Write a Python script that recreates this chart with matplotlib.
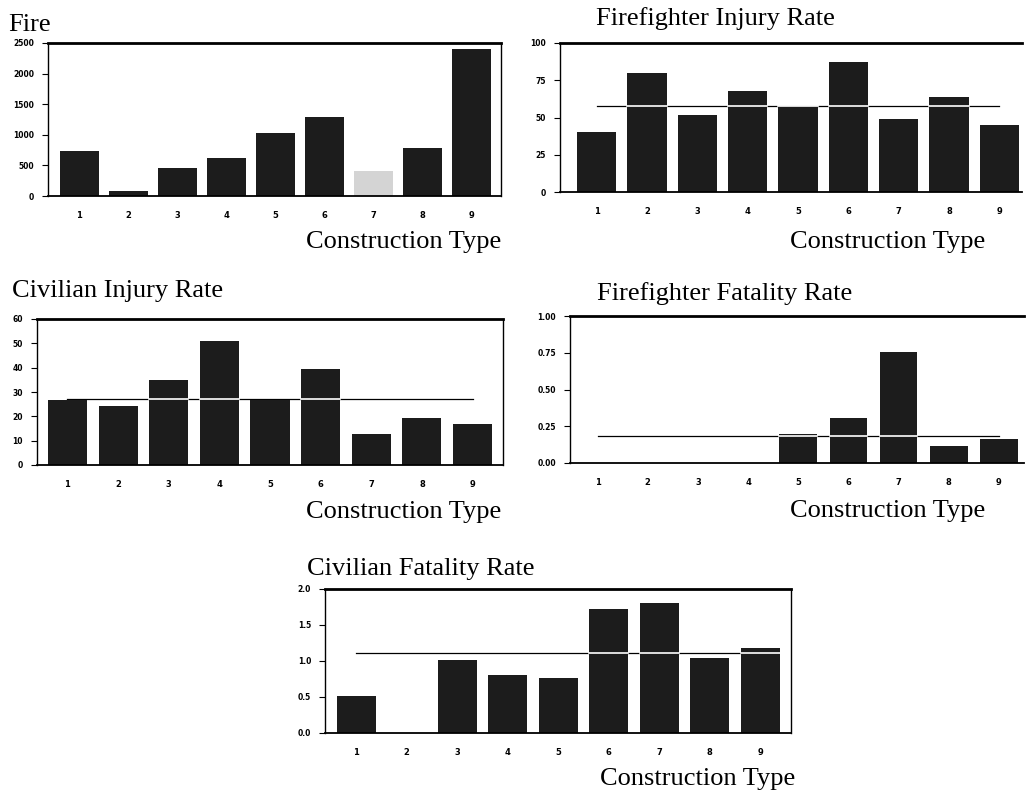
import matplotlib
matplotlib.use("Agg")
import matplotlib.pyplot as plt

W, H = 1026, 797

types = [1, 2, 3, 4, 5, 6, 7, 8, 9]
type_labels = ["1", "2", "3", "4", "5", "6", "7", "8", "9"]

fire = [740, 82, 462, 621, 1029, 1286, 403, 784, 2407]
ff_injury = [40.5, 80, 52, 68, 58, 87, 49, 64, 45]
civ_injury = [26.7, 24.4, 34.9, 51.1, 26.7, 39.3, 12.7, 19.4, 16.8]
ff_fatal = [0, 0, 0, 0, 0.194, 0.309, 0.757, 0.119, 0.164]
civ_fatal = [0.52, 0, 1.01, 0.81, 0.77, 1.72, 1.81, 1.04, 1.18]

ff_injury_avg = 57.7
civ_injury_avg = 27.0
ff_fatal_avg = 0.187
civ_fatal_avg = 1.11

fire_ticks = [0, 500, 1000, 1500, 2000, 2500]
ff_injury_ticks = [0, 25, 50, 75, 100]
civ_injury_ticks = [0, 10, 20, 30, 40, 50, 60]
ff_fatal_ticks = [0.0, 0.25, 0.5, 0.75, 1.0]
civ_fatal_ticks = [0.0, 0.5, 1.0, 1.5, 2.0]

BAR = "#1c1c1c"
SERIF = "Liberation Serif"

fig = plt.figure(figsize=(W / 100, H / 100), dpi=100)
fig.patch.set_facecolor("white")


def box(l, r, t, b):
    return [l / W, 1 - b / H, (r - l) / W, (b - t) / H]


def panel(rect, values, ticks, fmt, xlim, width, avg=None, colors=None,
          right=True):
    ax = fig.add_axes(box(*rect))
    cols = colors if colors else [BAR] * len(values)
    ax.bar(types, values, width=width, color=cols, zorder=2)
    if avg is not None:
        # dark line behind the bars, white where it crosses a taller bar
        ax.plot([types[0], types[-1]], [avg, avg], color="black", lw=0.9,
                zorder=1)
        for x, v in zip(types, values):
            if v > avg:
                ax.plot([x - width / 2, x + width / 2], [avg, avg],
                        color="white", lw=1.2, zorder=3)
    ax.set_xlim(*xlim)
    ax.set_ylim(ticks[0], ticks[-1])
    ax.set_yticks(ticks)
    ax.set_yticklabels([fmt.format(t) for t in ticks], fontsize=5.5,
                       fontweight="bold", family="DejaVu Sans")
    ax.set_xticks(types)
    ax.set_xticklabels(type_labels, fontsize=6, fontweight="bold",
                       family="DejaVu Sans")
    ax.tick_params(axis="x", length=0, pad=11)
    ax.tick_params(axis="y", direction="out", length=4, width=0.8, pad=6)
    ax.spines["top"].set_linewidth(2.0)
    ax.spines["left"].set_linewidth(1.0)
    ax.spines["bottom"].set_linewidth(1.3)
    ax.spines["right"].set_linewidth(1.0)
    ax.spines["right"].set_visible(right)
    return ax


# Fire
fire_cols = [BAR] * 9
fire_cols[6] = "#d4d4d4"
panel((48, 501, 43, 196), fire, fire_ticks, "{:d}", (0.36, 9.6), 0.79,
      colors=fire_cols)
fig.text(8 / W, 1 - 31 / H, "Fire", family=SERIF, fontsize=19,
         va="baseline")
fig.text(306 / W, 1 - 248 / H, "Construction Type", family=SERIF,
         fontsize=19, va="baseline")

# Firefighter Injury Rate
panel((560, 1022, 43, 192), ff_injury, ff_injury_ticks, "{:d}",
      (0.27, 9.45), 0.78, avg=ff_injury_avg, right=False)
fig.text(596 / W, 1 - 25 / H, "Firefighter Injury Rate", family=SERIF,
         fontsize=19, va="baseline")
fig.text(790 / W, 1 - 248 / H, "Construction Type", family=SERIF,
         fontsize=19, va="baseline")

# Civilian Injury Rate
panel((37, 503, 319, 465), civ_injury, civ_injury_ticks, "{:d}",
      (0.4, 9.6), 0.77, avg=civ_injury_avg)
fig.text(12 / W, 1 - 297 / H, "Civilian Injury Rate", family=SERIF,
         fontsize=19, va="baseline")
fig.text(306 / W, 1 - 518 / H, "Construction Type", family=SERIF,
         fontsize=19, va="baseline")

# Firefighter Fatality Rate
panel((570, 1024, 316, 463), ff_fatal, ff_fatal_ticks, "{:.2f}",
      (0.45, 9.5), 0.75, avg=ff_fatal_avg, right=False)
fig.text(597 / W, 1 - 300 / H, "Firefighter Fatality Rate", family=SERIF,
         fontsize=19, va="baseline")
fig.text(790 / W, 1 - 517 / H, "Construction Type", family=SERIF,
         fontsize=19, va="baseline")

# Civilian Fatality Rate
panel((325, 791, 589, 733), civ_fatal, civ_fatal_ticks, "{:.1f}",
      (0.38, 9.61), 0.77, avg=civ_fatal_avg)
fig.text(307 / W, 1 - 575 / H, "Civilian Fatality Rate", family=SERIF,
         fontsize=19, va="baseline")
fig.text(600 / W, 1 - 785 / H, "Construction Type", family=SERIF,
         fontsize=19, va="baseline")

fig.savefig("out.png", dpi=100)
